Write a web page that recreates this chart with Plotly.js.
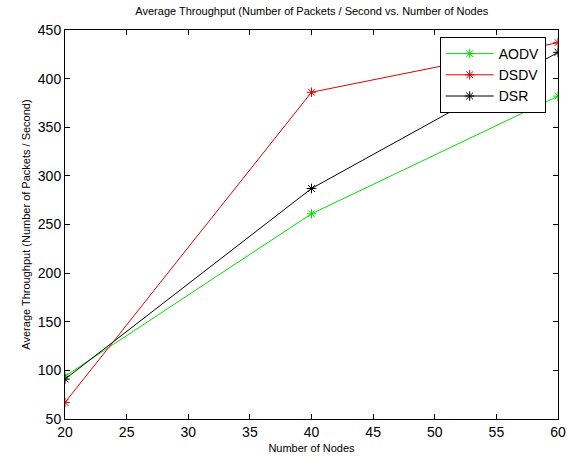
<!DOCTYPE html>
<html><head><meta charset="utf-8">
<script src="https://cdn.plot.ly/plotly-3.0.1.min.js"></script>
<style>body{margin:0;background:#fff}#c{width:567px;height:457px}</style>
</head><body><div id="c"></div>
<script>
const nodes = [20, 40, 60];
const aodv = [94, 261, 382];
const dsdv = [67, 386, 437];
const dsr = [91, 287, 427];
const seriesNames = ["AODV", "DSDV", "DSR"];
const colors = ["#00e000", "#e00000", "#000000"];
const vals = [aodv, dsdv, dsr];
const traces = vals.map((v, i) => ({
  x: nodes, y: v, name: seriesNames[i], type: "scatter", mode: "lines+markers",
  line: {color: colors[i], width: 1},
  marker: {symbol: "asterisk-open", size: 8, color: colors[i], line: {color: colors[i], width: 1}}
}));
const axisBase = {showline: true, linecolor: "#000", linewidth: 1, mirror: "ticks", ticks: "inside",
  ticklen: 5, tickcolor: "#000", showgrid: false, zeroline: false, ticklabeloverflow: "allow",
  tickfont: {family: "Liberation Sans, Arial", size: 14, color: "#000"}};
const layout = {
  width: 567, height: 457,
  margin: {l: 65, r: 9, t: 30, b: 38},
  paper_bgcolor: "#fff", plot_bgcolor: "#fff",
  font: {family: "Liberation Sans, Arial", color: "#000"},
  title: {text: "Average Throughput (Number of Packets / Second vs. Number of Nodes", font: {size: 11}, x: 0.55, xanchor: "center", y: 0.985, yanchor: "top"},
  xaxis: Object.assign({}, axisBase, {range: [20, 60], dtick: 5, tick0: 20,
    title: {text: "Number of Nodes", font: {size: 11}, standoff: 5}}),
  yaxis: Object.assign({}, axisBase, {range: [50, 450], dtick: 50, tick0: 50,
    title: {text: "Average Throughput (Number of Packets / Second)", font: {size: 11}, standoff: 4}}),
  legend: {x: 0.76, y: 0.982, xanchor: "left", yanchor: "top", bgcolor: "#fff",
    bordercolor: "#000", borderwidth: 1, font: {size: 14}, tracegroupgap: 0, itemwidth: 48},
  showlegend: true
};
Plotly.newPlot("c", traces, layout, {staticPlot: true});
</script></body></html>
